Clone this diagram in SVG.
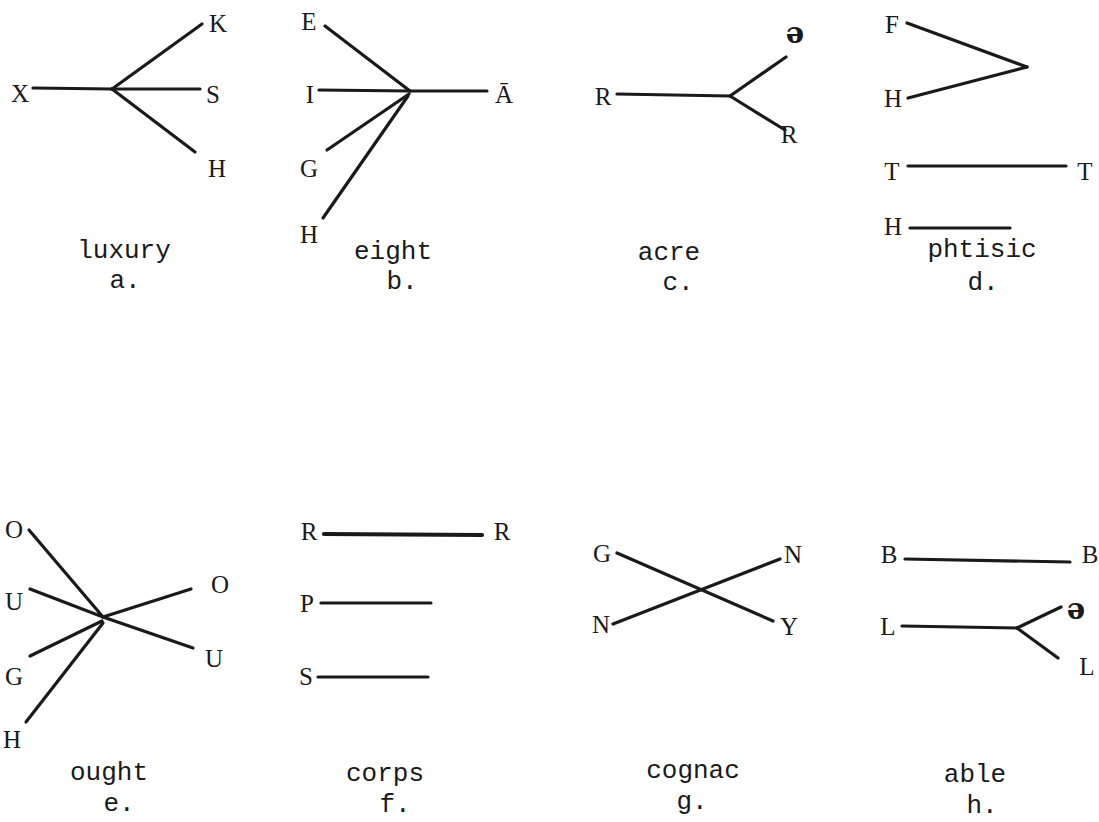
<svg xmlns="http://www.w3.org/2000/svg" width="1099" height="822" viewBox="0 0 1099 822">
<style>
.ln{stroke:#1a1a1a;stroke-width:3.2;stroke-linecap:round;fill:none}
.thick{stroke-width:4.2}
.lb{font-family:"Liberation Serif","DejaVu Serif",serif;font-size:25px;fill:#1a1a1a;text-anchor:middle}
.sw{font-family:"DejaVu Serif","Liberation Serif",serif;font-size:29px;font-weight:bold;fill:#1a1a1a;text-anchor:middle}
.wd{font-family:"Liberation Mono","DejaVu Sans Mono",monospace;font-size:26px;fill:#1a1a1a;text-anchor:middle}
</style>
<rect width="1099" height="822" fill="#ffffff"/>
<g id="connectors">
  <!-- a -->
  <line class="ln" x1="33" y1="88" x2="112" y2="89"/>
  <line class="ln" x1="112" y1="89" x2="202" y2="24"/>
  <line class="ln" x1="112" y1="89" x2="200" y2="89"/>
  <line class="ln" x1="112" y1="89" x2="195" y2="152"/>
  <!-- b -->
  <line class="ln" x1="325" y1="26" x2="410" y2="91"/>
  <line class="ln" x1="319" y1="90" x2="410" y2="91"/>
  <line class="ln" x1="410" y1="91" x2="487" y2="91"/>
  <line class="ln" x1="327" y1="150" x2="409" y2="94"/>
  <line class="ln" x1="323" y1="218" x2="408" y2="96"/>
  <!-- c -->
  <line class="ln" x1="617" y1="94" x2="730" y2="96"/>
  <line class="ln" x1="730" y1="96" x2="786" y2="57"/>
  <line class="ln" x1="730" y1="96" x2="785" y2="130"/>
  <!-- d -->
  <line class="ln" x1="907" y1="23" x2="1027" y2="67"/>
  <line class="ln" x1="908" y1="98" x2="1027" y2="67"/>
  <line class="ln" x1="908" y1="166" x2="1066" y2="166"/>
  <line class="ln" x1="910" y1="228" x2="1010" y2="228"/>
  <!-- e -->
  <line class="ln" x1="29" y1="530" x2="103" y2="617"/>
  <line class="ln" x1="30" y1="589" x2="103" y2="617"/>
  <line class="ln" x1="30" y1="656" x2="102" y2="621"/>
  <line class="ln" x1="26" y1="722" x2="103" y2="623"/>
  <line class="ln" x1="103" y1="617" x2="191" y2="589"/>
  <line class="ln" x1="103" y1="617" x2="193" y2="648"/>
  <!-- f -->
  <line class="ln thick" x1="324" y1="534" x2="482" y2="535"/>
  <line class="ln" x1="321" y1="603" x2="431" y2="603"/>
  <line class="ln" x1="318" y1="677" x2="428" y2="677"/>
  <!-- g -->
  <line class="ln" x1="617" y1="553" x2="773" y2="621"/>
  <line class="ln" x1="613" y1="624" x2="780" y2="559"/>
  <!-- h -->
  <line class="ln" x1="905" y1="559" x2="1070" y2="562"/>
  <line class="ln" x1="902" y1="626" x2="1017" y2="628"/>
  <line class="ln" x1="1017" y1="628" x2="1061" y2="607"/>
  <line class="ln" x1="1017" y1="628" x2="1058" y2="658"/>
</g>
<g id="panel-a">
  <g id="a-X"><text class="lb" x="20" y="102">X</text></g>
  <g id="a-K"><text class="lb" x="218" y="32">K</text></g>
  <g id="a-S"><text class="lb" x="213" y="103">S</text></g>
  <g id="a-H"><text class="lb" x="217" y="177">H</text></g>
  <g id="a-caption"><text class="wd" x="124" y="258">luxury</text><text class="wd" x="125" y="288">a.</text></g>
</g>
<g id="panel-b">
  <g id="b-E"><text class="lb" x="309" y="30">E</text></g>
  <g id="b-I"><text class="lb" x="310" y="103">I</text></g>
  <g id="b-A"><text class="lb" x="504" y="103">Ā</text></g>
  <g id="b-G"><text class="lb" x="309" y="177">G</text></g>
  <g id="b-H"><text class="lb" x="309" y="243">H</text></g>
  <g id="b-caption"><text class="wd" x="393" y="259">eight</text><text class="wd" x="402" y="289">b.</text></g>
</g>
<g id="panel-c">
  <g id="c-R1"><text class="lb" x="603" y="105">R</text></g>
  <g id="c-schwa"><text class="sw" x="795" y="43">ə</text></g>
  <g id="c-R2"><text class="lb" x="789" y="143">R</text></g>
  <g id="c-caption"><text class="wd" x="669" y="260">acre</text><text class="wd" x="678" y="290">c.</text></g>
</g>
<g id="panel-d">
  <g id="d-F"><text class="lb" x="892" y="33">F</text></g>
  <g id="d-H1"><text class="lb" x="893" y="107">H</text></g>
  <g id="d-T1"><text class="lb" x="892" y="180">T</text></g>
  <g id="d-T2"><text class="lb" x="1085" y="180">T</text></g>
  <g id="d-H2"><text class="lb" x="893" y="235">H</text></g>
  <g id="d-caption"><text class="wd" x="982" y="257">phtisic</text><text class="wd" x="983" y="290">d.</text></g>
</g>
<g id="panel-e">
  <g id="e-O1"><text class="lb" x="14" y="538">O</text></g>
  <g id="e-U1"><text class="lb" x="14" y="610">U</text></g>
  <g id="e-G"><text class="lb" x="14" y="685">G</text></g>
  <g id="e-H"><text class="lb" x="12" y="748">H</text></g>
  <g id="e-O2"><text class="lb" x="220" y="593">O</text></g>
  <g id="e-U2"><text class="lb" x="214" y="667">U</text></g>
  <g id="e-caption"><text class="wd" x="109" y="780">ought</text><text class="wd" x="119" y="811">e.</text></g>
</g>
<g id="panel-f">
  <g id="f-R1"><text class="lb" x="309" y="540">R</text></g>
  <g id="f-R2"><text class="lb" x="502" y="540">R</text></g>
  <g id="f-P"><text class="lb" x="307" y="612">P</text></g>
  <g id="f-S"><text class="lb" x="306" y="685">S</text></g>
  <g id="f-caption"><text class="wd" x="385" y="781">corps</text><text class="wd" x="395" y="812">f.</text></g>
</g>
<g id="panel-g">
  <g id="g-G"><text class="lb" x="602" y="562">G</text></g>
  <g id="g-N1"><text class="lb" x="793" y="563">N</text></g>
  <g id="g-N2"><text class="lb" x="601" y="633">N</text></g>
  <g id="g-Y"><text class="lb" x="789" y="635">Y</text></g>
  <g id="g-caption"><text class="wd" x="693" y="778">cognac</text><text class="wd" x="692" y="809">g.</text></g>
</g>
<g id="panel-h">
  <g id="h-B1"><text class="lb" x="889" y="563">B</text></g>
  <g id="h-B2"><text class="lb" x="1090" y="563">B</text></g>
  <g id="h-L1"><text class="lb" x="888" y="635">L</text></g>
  <g id="h-schwa"><text class="sw" x="1076" y="619">ə</text></g>
  <g id="h-L2"><text class="lb" x="1087" y="675">L</text></g>
  <g id="h-caption"><text class="wd" x="975" y="782">able</text><text class="wd" x="982" y="813">h.</text></g>
</g>
</svg>
